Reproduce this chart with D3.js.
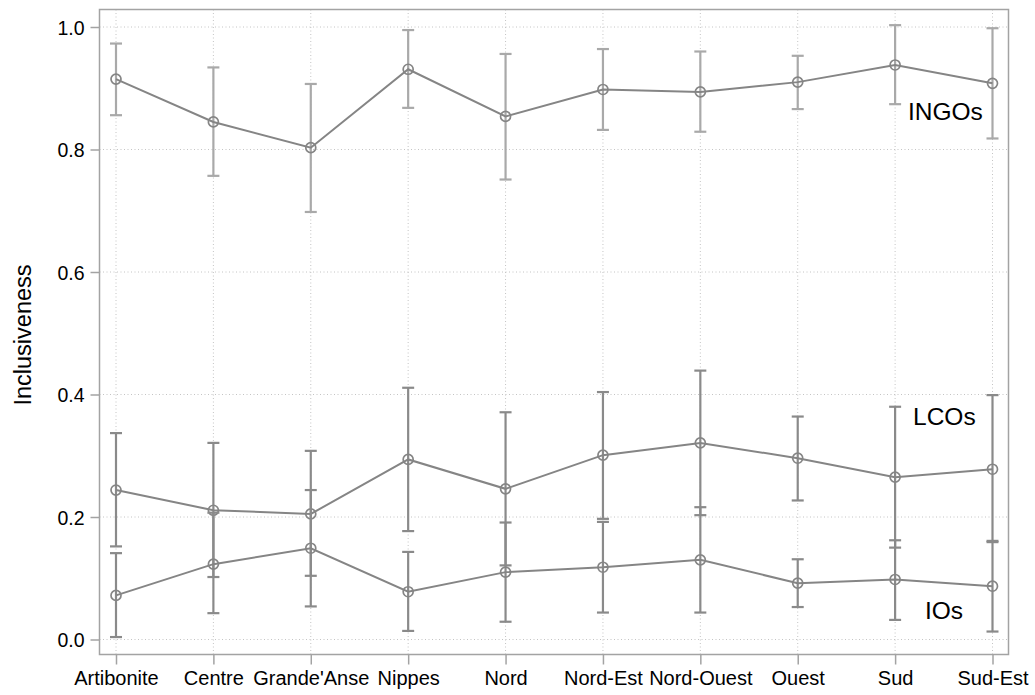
<!DOCTYPE html>
<html>
<head>
<meta charset="utf-8">
<script src="https://cdn.jsdelivr.net/npm/d3@7"></script>
<style>
  html, body { margin: 0; padding: 0; background: #fff; }
  svg { display: block; font-family: "Liberation Sans", Arial, Helvetica, sans-serif; }
</style>
</head>
<body>
<svg id="chart" width="1035" height="695"></svg>
<script>
// Departments of Haiti along the x axis
const categories = ["Artibonite", "Centre", "Grande'Anse", "Nippes", "Nord",
  "Nord-Est", "Nord-Ouest", "Ouest", "Sud", "Sud-Est"];

// Mean inclusiveness and confidence bounds per organisation type
const ingoMean  = [0.915, 0.845, 0.803, 0.931, 0.854, 0.898, 0.894, 0.910, 0.938, 0.908];
const ingoLower = [0.856, 0.757, 0.698, 0.868, 0.751, 0.832, 0.829, 0.866, 0.874, 0.818];
const ingoUpper = [0.973, 0.934, 0.907, 0.995, 0.956, 0.964, 0.960, 0.953, 1.003, 0.998];

const lcoMean  = [0.244, 0.211, 0.205, 0.294, 0.246, 0.301, 0.321, 0.296, 0.265, 0.278];
const lcoLower = [0.152, 0.102, 0.104, 0.177, 0.121, 0.197, 0.203, 0.227, 0.150, 0.159];
const lcoUpper = [0.337, 0.321, 0.308, 0.411, 0.371, 0.404, 0.439, 0.364, 0.380, 0.399];

const ioMean  = [0.072, 0.123, 0.149, 0.078, 0.110, 0.118, 0.130, 0.092, 0.098, 0.087];
const ioLower = [0.004, 0.043, 0.054, 0.014, 0.029, 0.044, 0.044, 0.053, 0.032, 0.013];
const ioUpper = [0.141, 0.207, 0.244, 0.143, 0.191, 0.192, 0.216, 0.131, 0.162, 0.161];

const yTicks = [0, 0.2, 0.4, 0.6, 0.8, 1.0];

const seriesList = [
  { name: "INGOs", mean: ingoMean, lower: ingoLower, upper: ingoUpper,
    barColor: "#a9a9a9", label: { x: 908, y: 119.5 } },
  { name: "LCOs", mean: lcoMean, lower: lcoLower, upper: lcoUpper,
    barColor: "#8a8a8a", label: { x: 913, y: 424.5 } },
  { name: "IOs", mean: ioMean, lower: ioLower, upper: ioUpper,
    barColor: "#8a8a8a", label: { x: 925, y: 618.5 } }
];

const box = { left: 99.5, right: 1008.5, top: 9.5, bottom: 654.5 };
const lineColor = "#858585";
const axisColor = "#a3a3a3";

const svg = d3.select("#chart");

const x = d3.scalePoint().domain(categories).range([116, 992.5]);
const y = d3.scaleLinear().domain([0, 1]).range([639.5, 27]);

// dotted grid
const grid = svg.append("g");
grid.selectAll("line.gy").data(yTicks).join("line")
  .attr("x1", box.left).attr("x2", box.right)
  .attr("y1", d => y(d)).attr("y2", d => y(d))
  .attr("stroke", "#c4c4c4").attr("stroke-width", 1)
  .attr("stroke-dasharray", "1,2.5");
grid.selectAll("line.gx").data(categories).join("line")
  .attr("x1", d => x(d)).attr("x2", d => x(d))
  .attr("y1", box.top).attr("y2", box.bottom)
  .attr("stroke", "#c4c4c4").attr("stroke-width", 1)
  .attr("stroke-dasharray", "1,2.5");

// frame
svg.append("rect")
  .attr("x", box.left).attr("y", box.top)
  .attr("width", box.right - box.left).attr("height", box.bottom - box.top)
  .attr("fill", "none").attr("stroke", axisColor).attr("stroke-width", 1.5);

// y axis
const yAxis = svg.append("g").attr("transform", `translate(${box.left},0)`)
  .call(d3.axisLeft(y).tickValues(yTicks).tickFormat(d3.format(".1f"))
    .tickSize(9).tickPadding(6));
yAxis.select(".domain").remove();
yAxis.selectAll(".tick line").attr("stroke", axisColor).attr("stroke-width", 1.5);
yAxis.selectAll(".tick text").attr("fill", "#000").style("font-size", "19.5px")
  .attr("dy", "0.36em");

// x axis
const xAxis = svg.append("g").attr("transform", `translate(0,${box.bottom})`)
  .call(d3.axisBottom(x).tickSize(10).tickPadding(6.5));
xAxis.select(".domain").remove();
xAxis.selectAll(".tick line").attr("stroke", axisColor).attr("stroke-width", 1.5);
xAxis.selectAll(".tick text").attr("fill", "#000").style("font-size", "20px")
  .attr("dy", "0.71em");

// y axis title
svg.append("text")
  .attr("transform", `translate(31,335) rotate(-90)`)
  .attr("text-anchor", "middle")
  .style("font-size", "23.5px")
  .attr("fill", "#000")
  .text("Inclusiveness");

// series: error bars, connecting line, hollow markers, label
const cap = 6;
seriesList.forEach(s => {
  const rows = categories.map((c, i) => ({ c, m: s.mean[i], lo: s.lower[i], hi: s.upper[i] }));
  const g = svg.append("g");

  const bars = g.append("g").attr("stroke", s.barColor).attr("stroke-width", 2.2).attr("fill", "none");
  bars.selectAll("line.v").data(rows).join("line")
    .attr("x1", d => x(d.c)).attr("x2", d => x(d.c))
    .attr("y1", d => y(d.lo)).attr("y2", d => y(d.hi));
  bars.selectAll("line.t").data(rows).join("line")
    .attr("x1", d => x(d.c) - cap).attr("x2", d => x(d.c) + cap)
    .attr("y1", d => y(d.hi)).attr("y2", d => y(d.hi));
  bars.selectAll("line.b").data(rows).join("line")
    .attr("x1", d => x(d.c) - cap).attr("x2", d => x(d.c) + cap)
    .attr("y1", d => y(d.lo)).attr("y2", d => y(d.lo));

  g.append("path")
    .datum(rows)
    .attr("fill", "none")
    .attr("stroke", lineColor)
    .attr("stroke-width", 2)
    .attr("d", d3.line().x(d => x(d.c)).y(d => y(d.m)));

  g.selectAll("circle").data(rows).join("circle")
    .attr("cx", d => x(d.c)).attr("cy", d => y(d.m))
    .attr("r", 5)
    .attr("fill", "none")
    .attr("stroke", lineColor)
    .attr("stroke-width", 1.7);

  svg.append("text")
    .attr("x", s.label.x).attr("y", s.label.y)
    .style("font-size", "24.5px")
    .attr("fill", "#000")
    .text(s.name);
});
</script>
</body>
</html>
